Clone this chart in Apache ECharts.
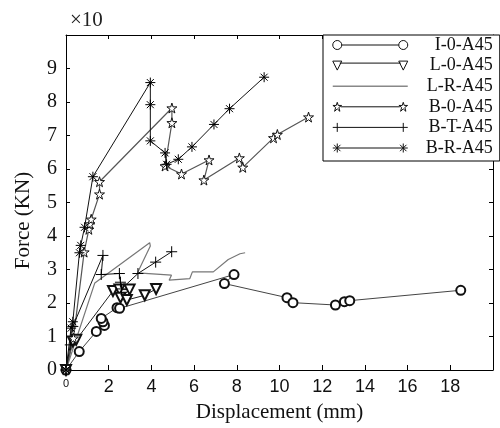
<!DOCTYPE html>
<html>
<head>
<meta charset="utf-8">
<script src="https://cdn.jsdelivr.net/npm/echarts@6/dist/echarts.min.js"></script>
<style>html,body{margin:0;padding:0;background:#fff;}#c{width:500px;height:428px;}</style>
</head>
<body>
<div id="c"></div>
<script>
// Data (Displacement mm, Force x10 kN)
const seriesNames = ['I-0-A45', 'L-0-A45', 'L-R-A45', 'B-0-A45', 'B-T-A45', 'B-R-A45'];
const dataI0 = [[0,0],[0.62,0.55],[1.42,1.15],[1.8,1.33],[1.73,1.44],[1.65,1.54],[2.39,1.86],[2.51,1.84],[7.87,2.85],[7.42,2.58],[10.35,2.16],[10.63,2.01],[12.62,1.94],[13.04,2.04],[13.29,2.07],[18.49,2.38]];
const dataL0 = [[0,0],[0.32,0.85],[0.48,0.9],[2.2,2.36],[2.5,2.4],[2.98,2.4],[2.55,2.16],[2.85,2.09],[3.69,2.23],[4.22,2.42]];
const dataLR = [[0,0],[1.35,2.6],[3.92,3.8],[3.95,3.7],[3.35,2.9],[4.94,2.83],[4.83,2.68],[5.8,2.73],[5.92,2.93],[6.9,2.93],[7.6,3.3],[8.15,3.47],[8.39,3.5]];
const dataB0 = [[0,0],[0.35,0.95],[0.85,3.52],[1.07,4.2],[1.12,4.36],[1.18,4.5],[1.57,5.25],[1.57,5.62],[4.96,7.82],[4.96,7.38],[4.64,6.09],[5.41,5.85],[6.7,6.27],[6.46,5.67],[8.12,6.33],[8.28,6.05],[9.72,6.93],[9.9,7.03],[11.36,7.55]];
const dataBT = [[0,0],[0.2,0.75],[0.32,1.3],[1.73,3.42],[1.65,2.85],[2.5,2.88],[2.55,2.62],[2.6,2.42],[3.37,2.88],[4.2,3.22],[4.95,3.53]];
const dataBR = [[0,0],[0.24,1.25],[0.32,1.44],[0.63,3.5],[0.69,3.72],[0.87,4.26],[1.26,5.77],[3.95,8.58],[3.95,7.92],[3.95,6.84],[4.64,6.48],[4.71,6.14],[5.26,6.29],[5.9,6.66],[6.93,7.33],[7.66,7.8],[9.28,8.74]];
const xTicks = [0,2,4,6,8,10,12,14,16,18];
const yTicks = [0,1,2,3,4,5,6,7,8,9];

const SERIF = "'Liberation Serif', 'Times New Roman', serif";
const SANS = "'Liberation Sans', Arial, sans-serif";
const STAR = 'path://M50,0 L61,35 L98,35 L68,57 L79,91 L50,70 L21,91 L32,57 L2,35 L39,35 Z';
const PLUS = 'path://M5,0 L5,10 M0,5 L10,5';
const AST = 'path://M5,0 L5,10 M0,5 L10,5 M1.5,1.5 L8.5,8.5 M8.5,1.5 L1.5,8.5';

// legend icons (75 x 9): line with a marker at each end
function starAt(ox) {
  const p = [[4.5,0],[5.49,3.15],[8.82,3.15],[6.12,5.13],[7.11,9],[4.5,6.6],[1.89,9],[2.88,5.13],[0.18,3.15],[3.51,3.15]];
  return 'M' + p.map(function (q) { return (q[0] + ox).toFixed(2) + ',' + q[1]; }).join(' L') + ' Z';
}
const ICON_CIRCLE = 'path://M9,4.5 L66,4.5 M0,4.5 A4.5,4.5 0 1 1 9,4.5 A4.5,4.5 0 1 1 0,4.5 Z M66,4.5 A4.5,4.5 0 1 1 75,4.5 A4.5,4.5 0 1 1 66,4.5 Z';
const ICON_TRI = 'path://M7,2 L68,2 M0,0 L9,0 L4.5,9 Z M66,0 L75,0 L70.5,9 Z';
const ICON_STAR = 'path://M8,4.5 L67,4.5 ' + starAt(0) + ' ' + starAt(66);
const ICON_PLUS = 'path://M0,4.5 L75,4.5 M4.5,0 L4.5,9 M70.5,0 L70.5,9';
const ICON_AST = 'path://M0,4.5 L75,4.5 M4.5,0 L4.5,9 M1.3,1.3 L7.7,7.7 M7.7,1.3 L1.3,7.7 M70.5,0 L70.5,9 M67.3,1.3 L73.7,7.7 M73.7,1.3 L67.3,7.7';
const legendIcons = [ICON_CIRCLE, ICON_TRI, null, ICON_STAR, ICON_PLUS, ICON_AST];

function mk(name, data, symbol, size, line, item, extra) {
  return Object.assign({
    name: name, type: 'line', data: data, symbol: symbol, symbolSize: size,
    showAllSymbol: true, clip: false, animation: false,
    lineStyle: Object.assign({ width: 1, color: '#222' }, line || {}),
    itemStyle: Object.assign({ color: '#000', borderColor: '#000', borderWidth: 1 }, item || {})
  }, extra || {});
}

const legendData = seriesNames.map(function (n, i) {
  if (!legendIcons[i]) return { name: n, itemStyle: { opacity: 0 }, lineStyle: { color: '#888', width: 1.5 } };
  return { name: n, icon: legendIcons[i], itemStyle: { color: '#fff', borderColor: '#111', borderWidth: 1 } };
});

const chart = echarts.init(document.getElementById('c'), null, { renderer: 'canvas' });
chart.setOption({
  animation: false,
  backgroundColor: '#fff',
  title: { text: '×10', left: 65, top: 5, textStyle: { fontFamily: SERIF, fontSize: 21, fontWeight: 'normal', color: '#222' } },
  grid: { left: 66, right: 7, top: 35, bottom: 56 },
  legend: {
    orient: 'vertical', left: 323, top: 35, padding: [1, 7, 4, 9],
    itemWidth: 75, itemHeight: 9, itemGap: 2.6,
    backgroundColor: '#fff', borderColor: '#000', borderWidth: 1, borderRadius: 0,
    selectedMode: false,
    data: legendData,
    formatter: function (n) { return '{a|' + n + '}'; },
    textStyle: { fontFamily: SERIF, fontSize: 18, color: '#111',
      rich: { a: { width: 80, align: 'right', fontFamily: SERIF, fontSize: 18 } } }
  },
  xAxis: [{
    type: 'value', min: 0, max: 20, interval: 2,
    name: 'Displacement (mm)', nameLocation: 'middle', nameGap: 32,
    nameTextStyle: { fontFamily: SERIF, fontSize: 21, color: '#111' },
    axisLine: { show: true, onZero: false, lineStyle: { color: '#000', width: 1 } },
    axisTick: { show: true, inside: true, length: 5, lineStyle: { color: '#000' } },
    splitLine: { show: false },
    axisLabel: { margin: 8, fontFamily: SANS, fontSize: 18, color: '#111',
      formatter: function (v) { if (xTicks.indexOf(v) < 0) return ''; return v === 0 ? '{s|0}' : String(v); },
      rich: { s: { fontFamily: SANS, fontSize: 11, color: '#111' } } }
  }, {
    type: 'value', min: 0, max: 20, interval: 2, position: 'top',
    axisLine: { show: true, onZero: false, lineStyle: { color: '#000', width: 1 } },
    axisTick: { show: true, inside: true, length: 4, lineStyle: { color: '#000' } },
    axisLabel: { show: false }, splitLine: { show: false }
  }],
  yAxis: [{
    type: 'value', min: 0, max: 10, interval: 1,
    name: 'Force (KN)', nameLocation: 'middle', nameGap: 32,
    nameTextStyle: { fontFamily: SERIF, fontSize: 21, color: '#111', padding: [0, 36, 0, 0] },
    axisLine: { show: true, onZero: false, lineStyle: { color: '#000', width: 1 } },
    axisTick: { show: true, inside: true, length: 4, lineStyle: { color: '#000' } },
    splitLine: { show: false },
    axisLabel: { margin: 9, fontFamily: SERIF, fontSize: 20, color: '#111',
      formatter: function (v) { return yTicks.indexOf(v) < 0 ? '' : String(v); } }
  }, {
    type: 'value', min: 0, max: 10, interval: 1, position: 'right',
    axisLine: { show: true, onZero: false, lineStyle: { color: '#000', width: 1 } },
    axisTick: { show: true, inside: true, length: 4, lineStyle: { color: '#000' } },
    axisLabel: { show: false }, splitLine: { show: false }
  }],
  series: [
    mk('I-0-A45', dataI0, 'emptyCircle', 9, { color: '#444' }, { color: '#111' }),
    mk('L-0-A45', dataL0, 'emptyTriangle', 10, { color: '#222' }, { color: '#111' }, { symbolRotate: 180 }),
    mk('L-R-A45', dataLR, 'none', 0, { color: '#777', width: 1.2 }, { color: '#777' }),
    mk('B-0-A45', dataB0, STAR, 10, { color: '#555', width: 1.2 }, { color: '#fff', borderColor: '#111' }),
    mk('B-T-A45', dataBT, PLUS, 11, { color: '#111' }, { color: '#000', borderColor: '#000' }),
    mk('B-R-A45', dataBR, AST, 10, { color: '#111' }, { color: '#000', borderColor: '#000' })
  ]
});
</script>
</body>
</html>
